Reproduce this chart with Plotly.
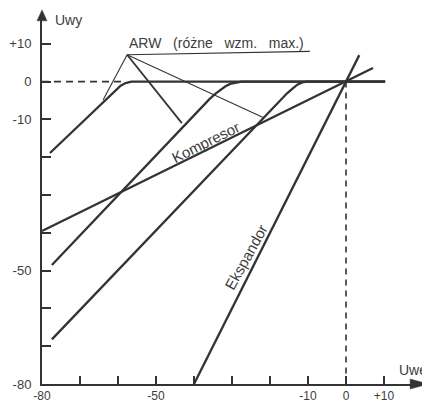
import plotly.graph_objects as go

# ---------------- data ----------------
tick_vals = [-80, -70, -60, -50, -40, -30, -20, -10, 0, 10]
tick_text = ["-80", "", "", "-50", "", "", "", "-10", "0", "+10"]

# ARW curves (different max gain), soft knee into 0 level
arw1_x = [-77.9, -64.0, -62.0, -60.5, -59.3, -58.0, -56.5, 10.3]
arw1_y = [-18.9, -5.4, -3.5, -2.1, -1.1, -0.4, 0.0, 0.0]

arw2_x = [-77.4, -38.0, -36.0, -34.5, -33.0, -31.8, -30.5, -29.0, -27.5, 10.3]
arw2_y = [-48.5, -6.7, -4.7, -3.3, -2.1, -1.3, -0.6, -0.2, 0.0, 0.0]

arw3_x = [-77.4, -17.4, -15.5, -14.0, -12.8, -11.5, -10.3, 10.3]
arw3_y = [-68.2, -5.0, -3.1, -1.8, -0.8, -0.2, 0.0, 0.0]

komp_x = [-80.0, 0.0, 7.1]
komp_y = [-39.5, 0.0, 3.6]

eksp_x = [-40.0, 0.0, 3.5]
eksp_y = [-80.0, 0.0, 7.0]

# reference dashed lines
dash_h_x = [-80.0, -58.0]
dash_h_y = [0.0, 0.0]
dash_v_x = [0.0, 0.0]
dash_v_y = [0.0, -80.0]

# label "ARW" leader lines
apex = (-57.6, 7.1)
leader_ends_x = [-63.9, -43.2, -21.8]
leader_ends_y = [-4.8, -11.0, -9.5]
underline_x = [-57.6, -9.5]
underline_y = [7.1, 8.0]

LINE = "#333333"
TEXT = "#3c3c3c"
FONT = "Liberation Sans, Arial, Helvetica, sans-serif"

fig = go.Figure()


def add_line(x, y, width=2.0, dash=None):
    fig.add_trace(go.Scatter(
        x=x, y=y, mode="lines",
        line=dict(color=LINE, width=width, dash=dash),
        hoverinfo="skip", showlegend=False, cliponaxis=False))


add_line(dash_h_x, dash_h_y, 1.6, "7px,5px")
add_line(dash_v_x, dash_v_y, 1.6, "6px,5px")

for xs, ys in [(arw1_x, arw1_y), (arw2_x, arw2_y), (arw3_x, arw3_y)]:
    add_line(xs, ys, 2.3)
add_line(komp_x, komp_y, 2.3)
add_line(eksp_x, eksp_y, 2.3)

leader_w = [1.1, 1.8, 1.1]
for ex, ey, w in zip(leader_ends_x, leader_ends_y, leader_w):
    add_line([apex[0], ex], [apex[1], ey], w)
add_line(underline_x, underline_y, 1.1)

annotations = [
    dict(x=-57.6, y=10.2, text="ARW\u00a0\u00a0\u00a0(różne\u00a0\u00a0\u00a0wzm.\u00a0\u00a0\u00a0max.)",
         xanchor="left", yanchor="middle", font=dict(size=14), xref="x", yref="y"),
    dict(x=-37.1, y=-16.1, text="Kompresor", textangle=-26.6,
         xanchor="center", yanchor="middle", font=dict(size=15), xref="x", yref="y"),
    dict(x=-26.2, y=-46.3, text="Ekspandor", textangle=-61,
         xanchor="center", yanchor="middle", font=dict(size=15), xref="x", yref="y"),
    dict(x=-77.1, y=16.2, text="Uwy", xanchor="left", yanchor="middle",
         font=dict(size=14), xref="x", yref="y"),
    dict(x=1.046, y=-76.3, text="Uwe", xanchor="right", yanchor="middle",
         font=dict(size=14), xref="paper", yref="y"),
]
for a in annotations:
    a.update(showarrow=False)
    a["font"].update(color=TEXT, family=FONT)

shapes = [
    # y-axis arrowhead
    dict(type="path", xref="paper", yref="paper",
         path="M -0.0135,0.995 L 0.0135,0.995 L 0,1.0247 Z",
         fillcolor=LINE, line=dict(color=LINE, width=0.5)),
    # x-axis arrowhead
    dict(type="path", xref="paper", yref="paper",
         path="M 0.995,-0.0137 L 0.995,0.0137 L 1.043,0 Z",
         fillcolor=LINE, line=dict(color=LINE, width=0.5)),
]

axis_common = dict(
    tickvals=tick_vals, ticktext=tick_text,
    ticks="inside", tickwidth=1.5, tickcolor=LINE,
    showline=True, linecolor=LINE, linewidth=2,
    showgrid=False, zeroline=False, automargin=False,
    fixedrange=True,
)

# the page body adds an 8px offset, so the figure is 8px smaller on each axis
fig.update_layout(
    width=422, height=395,
    margin=dict(l=34, r=18, t=11, b=19, autoexpand=False),
    plot_bgcolor="white", paper_bgcolor="white",
    xaxis=dict(range=[-80, 17.37], ticklen=8, ticklabelstandoff=0,
               tickfont=dict(size=12, color=TEXT, family=FONT), **axis_common),
    yaxis=dict(range=[-80, 16.56], ticklen=9, ticklabelstandoff=6,
               tickfont=dict(size=13, color=TEXT, family=FONT), **axis_common),
    annotations=annotations,
    shapes=shapes,
    font=dict(family=FONT, color=TEXT),
)

fig.write_html("out.html")
